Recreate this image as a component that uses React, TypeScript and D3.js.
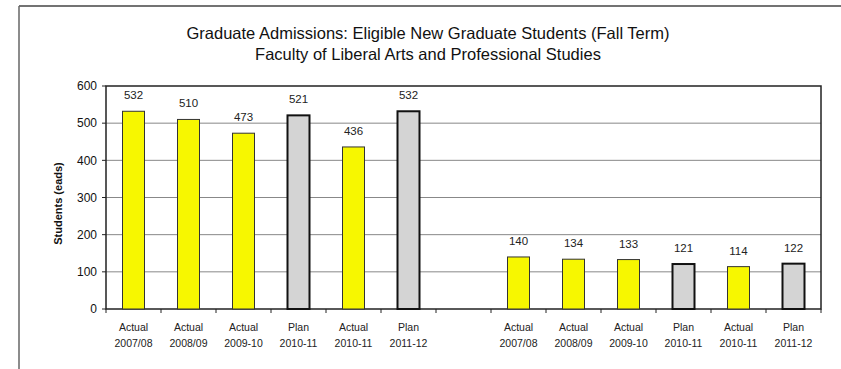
import React from "react";
import * as d3 from "d3";

const titleLines = [
  "Graduate Admissions: Eligible New Graduate Students (Fall Term)",
  "Faculty of Liberal Arts and Professional Studies",
];
const yAxisLabel = "Students (eads)";
const categories = [
  "a1", "a2", "a3", "a4", "a5", "a6", "gap",
  "b1", "b2", "b3", "b4", "b5", "b6",
];
const catTypes = [
  "Actual", "Actual", "Actual", "Plan", "Actual", "Plan", "",
  "Actual", "Actual", "Actual", "Plan", "Actual", "Plan",
];
const catYears = [
  "2007/08", "2008/09", "2009-10", "2010-11", "2010-11", "2011-12", "",
  "2007/08", "2008/09", "2009-10", "2010-11", "2010-11", "2011-12",
];
const values: (number | null)[] = [
  532, 510, 473, 521, 436, 532, null,
  140, 134, 133, 121, 114, 122,
];
const yTicks = [0, 100, 200, 300, 400, 500, 600];

const W = 841;
const H = 369;
const plot = { left: 106, right: 821, top: 86, bottom: 309 };

export default function App() {
  const x = d3
    .scaleBand<string>()
    .domain(categories)
    .range([plot.left, plot.right])
    .paddingInner(0)
    .paddingOuter(0);
  const y = d3.scaleLinear().domain([0, 600]).range([plot.bottom, plot.top]);
  const bw = x.bandwidth() * 0.4;
  const font = "Liberation Sans, Arial, sans-serif";

  return (
    <svg
      width={W}
      height={H}
      style={{ position: "absolute", left: 0, top: 0, background: "#fff" }}
      fontFamily={font}
    >
      <rect width={W} height={H} fill="#fff" />
      {/* outer frame */}
      <line x1={19} y1={6} x2={W} y2={6} stroke="#444" strokeWidth={1.5} />
      <line x1={19} y1={6} x2={19} y2={H} stroke="#666" strokeWidth={1.5} />

      {/* title */}
      {titleLines.map((t, i) => (
        <text
          key={i}
          x={428}
          y={39 + i * 21}
          textAnchor="middle"
          fontSize={16.5}
          fill="#111"
        >
          {t}
        </text>
      ))}

      {/* gridlines */}
      {yTicks
        .filter((t) => t > 0 && t < 600)
        .map((t) => (
          <line
            key={t}
            x1={plot.left}
            x2={plot.right}
            y1={y(t)}
            y2={y(t)}
            stroke="#888"
            strokeWidth={1}
          />
        ))}

      {/* plot border */}
      <rect
        x={plot.left}
        y={plot.top}
        width={plot.right - plot.left}
        height={plot.bottom - plot.top}
        fill="none"
        stroke="#222"
        strokeWidth={1.5}
      />

      {/* y ticks */}
      {yTicks.map((t) => (
        <g key={t}>
          <line
            x1={plot.left - 4}
            x2={plot.left}
            y1={y(t)}
            y2={y(t)}
            stroke="#222"
          />
          <text
            x={plot.left - 9}
            y={y(t)}
            dy="0.35em"
            textAnchor="end"
            fontSize={12}
            fill="#111"
          >
            {t}
          </text>
        </g>
      ))}

      {/* y label */}
      <text
        transform={`translate(62,${(plot.top + plot.bottom) / 2 + 6}) rotate(-90)`}
        textAnchor="middle"
        fontSize={11}
        fontWeight="bold"
        fill="#111"
      >
        {yAxisLabel}
      </text>

      {/* x ticks */}
      {categories.map((c) => (
        <line
          key={c}
          x1={x(c) as number}
          x2={x(c) as number}
          y1={plot.bottom}
          y2={plot.bottom + 4}
          stroke="#222"
        />
      ))}
      <line
        x1={plot.right}
        x2={plot.right}
        y1={plot.bottom}
        y2={plot.bottom + 4}
        stroke="#222"
      />

      {/* bars */}
      {categories.map((c, i) => {
        const v = values[i];
        if (v == null) return null;
        const cx = (x(c) as number) + x.bandwidth() / 2;
        const isPlan = catTypes[i] === "Plan";
        return (
          <g key={c}>
            <rect
              x={cx - bw / 2}
              y={y(v)}
              width={bw}
              height={plot.bottom - y(v)}
              fill={isPlan ? "#d4d4d4" : "#f7f700"}
              stroke={isPlan ? "#111" : "#333"}
              strokeWidth={isPlan ? 2 : 1}
            />
            <text
              x={cx}
              y={y(v) - 12}
              textAnchor="middle"
              fontSize={11.5}
              fill="#222"
            >
              {v}
            </text>
          </g>
        );
      })}

      {/* x labels */}
      {categories.map((c, i) => {
        if (!catTypes[i]) return null;
        const cx = (x(c) as number) + x.bandwidth() / 2;
        return (
          <g key={c}>
            <text
              x={cx}
              y={331}
              textAnchor="middle"
              fontSize={10.5}
              fill="#222"
            >
              {catTypes[i]}
            </text>
            <text
              x={cx}
              y={347}
              textAnchor="middle"
              fontSize={10.5}
              fill="#222"
            >
              {catYears[i]}
            </text>
          </g>
        );
      })}
    </svg>
  );
}
